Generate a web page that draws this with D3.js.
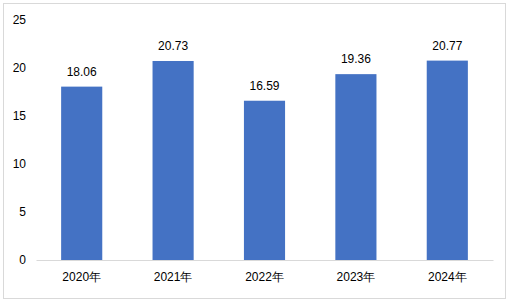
<!DOCTYPE html>
<html>
<head>
<meta charset="utf-8">
<script src="https://cdn.jsdelivr.net/npm/d3@7"></script>
<style>
  body { margin: 0; background: #fff; }
  svg { display: block; font-family: "Liberation Sans", "Noto Sans CJK SC", sans-serif; }
</style>
</head>
<body>
<div id="card"></div>
<script>
// chart data
const years = ["2020年", "2021年", "2022年", "2023年", "2024年"];
const values = [18.06, 20.73, 16.59, 19.36, 20.77];
const yTicks = [0, 5, 10, 15, 20, 25];

const w = 511;
const h = 303;
const margin = { top: 20, right: 18, bottom: 43, left: 36 };
const width = w - margin.left - margin.right;
const height = h - margin.top - margin.bottom;

const svg = d3.select("#card")
  .append("svg")
    .attr("width", w)
    .attr("height", h);

// outer frame
svg.append("rect")
  .attr("x", 3.5)
  .attr("y", 3.5)
  .attr("width", 502)
  .attr("height", 295)
  .attr("fill", "#fff")
  .attr("stroke", "#d9d9d9");

const chart = svg.append("g")
  .attr("transform", "translate(" + margin.left + "," + margin.top + ")");

const x = d3.scaleBand()
  .domain(years)
  .range([0, width])
  .paddingInner(0.55)
  .paddingOuter(0.275);

const y = d3.scaleLinear()
  .domain([0, 25])
  .range([height, 0]);

// y axis labels only
const yAxis = d3.axisLeft(y).tickValues(yTicks).tickSize(0).tickPadding(10);
const yg = chart.append("g").call(yAxis);
yg.select(".domain").remove();
yg.selectAll("text").style("font-size", "12px").attr("fill", "#000");

// bars
chart.selectAll(".bar")
  .data(values)
  .enter()
  .append("rect")
    .attr("class", "bar")
    .attr("x", (d, i) => x(years[i]))
    .attr("y", d => y(d))
    .attr("width", x.bandwidth())
    .attr("height", d => height - y(d))
    .attr("fill", "#4472c4");

// value labels
chart.selectAll(".label")
  .data(values)
  .enter()
  .append("text")
    .attr("class", "label")
    .attr("x", (d, i) => x(years[i]) + x.bandwidth() / 2)
    .attr("y", d => y(d) - 11)
    .attr("text-anchor", "middle")
    .style("font-size", "12px")
    .attr("fill", "#000")
    .text(d => d.toFixed(2));

// x axis
const xAxis = d3.axisBottom(x).tickSize(0).tickPadding(12);
const xg = chart.append("g")
  .attr("transform", "translate(0," + height + ")")
  .call(xAxis);
xg.select(".domain").attr("stroke", "#d9d9d9");
xg.selectAll("text").style("font-size", "12px").attr("fill", "#000");
</script>
</body>
</html>
